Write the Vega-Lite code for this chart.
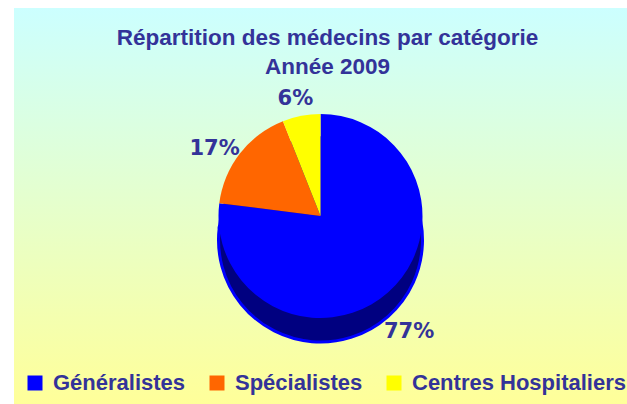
{
  "$schema": "https://vega.github.io/schema/vega-lite/v6.json",
  "width": 613,
  "height": 396,
  "autosize": "none",
  "padding": {"left": 14, "top": 8, "right": 0, "bottom": 0},
  "background": "#FFFFFF",
  "data": {"values": [
    {"categorie": "Généralistes", "pct": 0.77},
    {"categorie": "Spécialistes", "pct": 0.17},
    {"categorie": "Centres Hospitaliers", "pct": 0.06}
  ]},
  "title": {
    "text": ["Répartition des médecins par catégorie", "Année 2009"],
    "font": "Liberation Sans",
    "fontSize": 22.5,
    "fontWeight": "bold",
    "color": "#333399",
    "lineHeight": 29,
    "anchor": "middle",
    "frame": "group",
    "offset": -70,
    "dx": 7
  },
  "config": {
    "view": {"stroke": "#333399", "strokeWidth": 3},
    "legend": {
      "orient": "bottom-left",
      "direction": "horizontal",
      "offset": 10,
      "padding": 0,
      "symbolType": "square",
      "symbolSize": 225,
      "symbolStrokeWidth": 0,
      "labelFont": "Liberation Sans",
      "labelFontSize": 22,
      "labelFontWeight": "bold",
      "labelColor": "#333399",
      "labelOffset": 7,
      "labelLimit": 400,
      "columnPadding": 20
    }
  },
  "layer": [
    {
      "mark": {
        "type": "rect",
        "fill": {
          "gradient": "linear", "x1": 0, "y1": 0, "x2": 0, "y2": 1,
          "stops": [
            {"offset": 0, "color": "#CCFFFF"},
            {"offset": 1, "color": "#FFFF99"}
          ]
        }
      },
      "encoding": {}
    },
    {
      "mark": {"type": "arc", "radius": 102, "yOffset": 34, "fill": "#000080", "stroke": "#0000FF", "strokeWidth": 3},
      "encoding": {
        "theta": {"field": "pct", "type": "quantitative", "stack": true},
        "order": {"field": "pct", "sort": "descending"}
      }
    },
    {
      "mark": {"type": "arc", "radius": 102, "yOffset": 10},
      "encoding": {
        "theta": {"field": "pct", "type": "quantitative", "stack": true},
        "order": {"field": "pct", "sort": "descending"},
        "color": {
          "field": "categorie",
          "type": "nominal",
          "scale": {
            "domain": ["Généralistes", "Spécialistes", "Centres Hospitaliers"],
            "range": ["#0000FF", "#FF6600", "#FFFF00"]
          },
          "legend": {"title": null}
        }
      }
    },
    {
      "mark": {"type": "text", "radius": 134, "yOffset": 25, "font": "DejaVu Sans", "fontSize": 21, "fontWeight": "bold", "fill": "#333399"},
      "encoding": {
        "theta": {"field": "pct", "type": "quantitative", "stack": true},
        "order": {"field": "pct", "sort": "descending"},
        "text": {"field": "pct", "type": "quantitative", "format": ".0%"}
      }
    }
  ]
}
